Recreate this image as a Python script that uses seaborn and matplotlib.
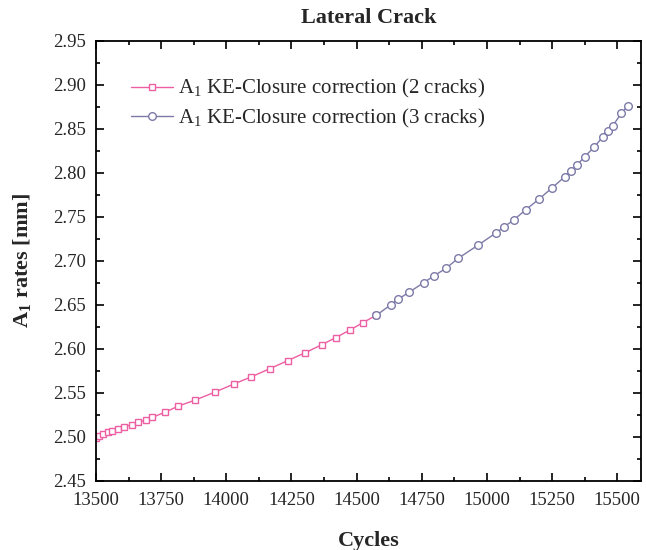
import matplotlib
matplotlib.use("Agg")
import matplotlib.pyplot as plt
from matplotlib.ticker import MultipleLocator, AutoMinorLocator, FormatStrFormatter
import seaborn as sns
import pandas as pd

# Crack length A1 vs. load cycles, KE closure correction
cycles_2 = [13500, 13512, 13528, 13545, 13562, 13583, 13607, 13637, 13662, 13690,
            13715, 13764, 13815, 13881, 13955, 14029, 14095, 14167, 14235, 14301,
            14367, 14419, 14475, 14524, 14575]
a1_2 = [2.4985, 2.5015, 2.5035, 2.5055, 2.5070, 2.5090, 2.5115, 2.5140, 2.5165, 2.5192,
        2.5222, 2.5280, 2.5350, 2.5420, 2.5508, 2.5602, 2.5682, 2.5776, 2.5867, 2.5955,
        2.6049, 2.6128, 2.6216, 2.6299, 2.6383]

cycles_3 = [14576, 14630, 14659, 14701, 14757, 14798, 14843, 14890, 14967, 15033,
            15065, 15103, 15148, 15199, 15248, 15299, 15323, 15347, 15375, 15411,
            15444, 15465, 15482, 15516, 15540]
a1_3 = [2.6383, 2.6500, 2.6565, 2.6644, 2.6753, 2.6833, 2.6917, 2.7031, 2.7182, 2.7315,
        2.7386, 2.7466, 2.7580, 2.7701, 2.7826, 2.7958, 2.8026, 2.8094, 2.8185, 2.8292,
        2.8409, 2.8477, 2.8534, 2.8678, 2.8761]

label_2 = r"A$_1$ KE-Closure correction (2 cracks)"
label_3 = r"A$_1$ KE-Closure correction (3 cracks)"
x_ticks = [13500, 13750, 14000, 14250, 14500, 14750, 15000, 15250, 15500]

sns.set_theme(style="ticks")
plt.rcParams["font.family"] = ["Liberation Serif", "DejaVu Serif"]
plt.rcParams["mathtext.fontset"] = "custom"
plt.rcParams["mathtext.rm"] = "Liberation Serif"
plt.rcParams["mathtext.bf"] = "Liberation Serif:bold"

df2 = pd.DataFrame({"Cycles": cycles_2, "A1": a1_2})
df3 = pd.DataFrame({"Cycles": cycles_3, "A1": a1_3})

fig = plt.figure(figsize=(6.46, 5.5), dpi=100)
ax = fig.add_axes([0.1486, 0.1255, 0.8432, 0.8000])

pink = "#ec5fa2"
purple = "#7c7aa8"
sns.lineplot(data=df2, x="Cycles", y="A1", ax=ax, color=pink, lw=1.0,
             marker="s", markersize=5, markerfacecolor="white",
             markeredgecolor=pink, markeredgewidth=1.0, label=label_2)
sns.lineplot(data=df3, x="Cycles", y="A1", ax=ax, color=purple, lw=1.0,
             marker="o", markersize=5.5, markerfacecolor="white",
             markeredgecolor=purple, markeredgewidth=1.0, label=label_3)

ax.set_xlim(13500, 15590)
ax.set_ylim(2.45, 2.95)
ax.set_xticks(x_ticks)
ax.xaxis.set_minor_locator(AutoMinorLocator(2))
ax.yaxis.set_major_locator(MultipleLocator(0.05))
ax.yaxis.set_minor_locator(AutoMinorLocator(2))
ax.yaxis.set_major_formatter(FormatStrFormatter("%.2f"))

ax.tick_params(which="both", direction="in", top=True, right=True,
               color="black", width=1.2)
ax.tick_params(which="major", length=6, labelsize=13.5)
ax.tick_params(axis="x", which="major", pad=8)
ax.tick_params(axis="y", which="major", pad=7)
ax.tick_params(which="minor", length=3)
for s in ax.spines.values():
    s.set_linewidth(1.3)
    s.set_color("black")

ax.set_xlabel("Cycles", fontsize=16, fontweight="bold", labelpad=16)
ax.set_ylabel(r"A$_\mathbf{1}$ rates [mm]", fontsize=16, fontweight="bold", labelpad=14)
ax.set_title("Lateral Crack", fontsize=16, fontweight="bold", pad=13)

ax.legend(loc="upper left", bbox_to_anchor=(0.03, 0.96), frameon=False,
          fontsize=15, handlelength=2.0, handletextpad=0.25, labelspacing=0.3)

fig.savefig("out.png", dpi=100)
